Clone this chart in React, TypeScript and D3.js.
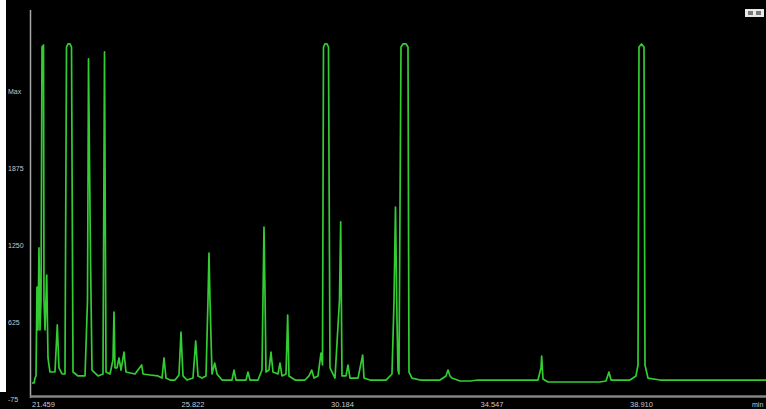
import React from "react";
import * as d3 from "d3";

// retention time (min) and detector response
const times: number[] = [
  21.488, 21.547, 21.576, 21.605, 21.634, 21.663, 21.692, 21.722, 21.751, 21.780, 21.824, 21.838, 21.868, 21.917, 21.955, 22.013,
  22.159, 22.226, 22.276, 22.364, 22.451, 22.495, 22.539, 22.597, 22.641, 22.685, 22.830, 23.035, 23.108, 23.137, 23.166, 23.195,
  23.239, 23.414, 23.560, 23.604, 23.648, 23.764, 23.852, 23.881, 23.910, 23.969, 24.027, 24.085, 24.173, 24.231, 24.494, 24.689,
  24.727, 24.931, 25.165, 25.282, 25.340, 25.398, 25.515, 25.661, 25.778, 25.836, 25.894, 26.011, 26.186, 26.265, 26.332, 26.449,
  26.566, 26.624, 26.653, 26.682, 26.741, 26.819, 26.887, 27.032, 27.324, 27.383, 27.441, 27.733, 27.791, 27.849, 28.083, 28.199,
  28.258, 28.287, 28.316, 28.404, 28.462, 28.520, 28.666, 28.725, 28.783, 28.900, 28.949, 28.987, 29.163, 29.454, 29.571, 29.650,
  29.717, 29.834, 29.921, 29.965, 29.994, 30.038, 30.096, 30.140, 30.184, 30.330, 30.461, 30.496, 30.534, 30.651, 30.709, 30.767,
  31.001, 31.138, 31.176, 31.351, 31.818, 31.993, 32.051, 32.095, 32.139, 32.168, 32.197, 32.256, 32.314, 32.402, 32.460, 32.489,
  32.577, 32.810, 33.394, 33.569, 33.627, 33.686, 33.744, 33.977, 34.269, 34.502, 36.253, 36.341, 36.361, 36.399, 36.545, 38.062,
  38.237, 38.325, 38.384, 38.938, 39.113, 39.172, 39.201, 39.274, 39.347, 39.376, 39.463, 39.814, 42.907,
];
const response: number[] = [
  130, 130, 170, 187, 909, 560, 1226, 560, 804, 2857, 2873, 804, 560, 1006, 333, 219,
  219, 601, 252, 203, 203, 2857, 2882, 2882, 2857, 219, 187, 187, 804, 2760, 1940, 1153,
  235, 187, 203, 2817, 219, 203, 317, 706, 252, 252, 333, 235, 381, 219, 203, 276,
  203, 195, 187, 170, 333, 170, 154, 154, 195, 544, 187, 154, 170, 471, 187, 170,
  187, 804, 1185, 804, 203, 292, 203, 154, 154, 235, 154, 154, 219, 154, 154, 235,
  1396, 860, 219, 235, 381, 219, 203, 292, 187, 203, 682, 187, 154, 154, 187, 235,
  170, 187, 373, 276, 2857, 2882, 2882, 2857, 252, 170, 804, 1437, 187, 187, 276, 170,
  170, 357, 170, 154, 154, 203, 779, 1558, 641, 235, 203, 2857, 2882, 2882, 2857, 219,
  170, 154, 154, 187, 235, 187, 170, 146, 146, 154, 154, 252, 349, 162, 138, 138,
  146, 219, 154, 154, 187, 276, 2857, 2882, 2857, 276, 170, 154, 154,
];

const xTickValues: number[] = [21.459, 25.822, 30.184, 34.547, 38.91];
const xTickLabels: string[] = ["21.459", "25.822", "30.184", "34.547", "38.910"];
const yTickValues: number[] = [2500, 1875, 1250, 625, 0];
const yTickLabels: string[] = ["Max", "1875", "1250", "625", "-75"];

const W = 766;
const H = 409;

export default function App() {
  const x = d3.scaleLinear().domain([21.459, 42.907]).range([31, 766]);
  const y = d3.scaleLinear().domain([0, 2500]).range([399, 91]);
  const pts = times.map((t, i) => [t, response[i]] as [number, number]);
  const line = d3
    .line<[number, number]>()
    .x((d) => x(d[0]))
    .y((d) => y(d[1]));

  return (
    <svg
      width={W}
      height={H}
      style={{ position: "absolute", left: 0, top: 0, display: "block" }}
      fontFamily="Liberation Sans, Arial, sans-serif"
    >
      <rect x={0} y={0} width={W} height={H} fill="#000" />
      <rect x={0} y={0} width={6} height={392} fill="#fff" />
      {/* small window buttons top-right */}
      <rect x={745} y={9} width={19} height={8} fill="#e8e8e8" />
      <rect x={748} y={11} width={5} height={4} fill="#777" />
      <rect x={756} y={11} width={5} height={4} fill="#777" />
      {/* axes */}
      <line x1={30.5} y1={10} x2={30.5} y2={398} stroke="#a8a8a8" strokeWidth={1.5} />
      <line x1={30} y1={396.5} x2={W} y2={396.5} stroke="#858585" strokeWidth={2.5} />
      {yTickValues.map((v, i) => (
        <text key={"y" + i} x={8} y={y(v) + 2.5} fontSize={7} fill="#c8c8c8">
          {yTickLabels[i]}
        </text>
      ))}
      {xTickValues.map((v, i) => (
        <text key={"x" + i} x={x(v) + 1} y={407} fontSize={7.5} fill="#c8c8c8">
          {xTickLabels[i]}
        </text>
      ))}
      <text x={752} y={407} fontSize={7} fill="#c8c8c8">
        min
      </text>
      <path d={line(pts) || ""} fill="none" stroke="#33cc33" strokeWidth={1.7} strokeLinejoin="round" />
    </svg>
  );
}
